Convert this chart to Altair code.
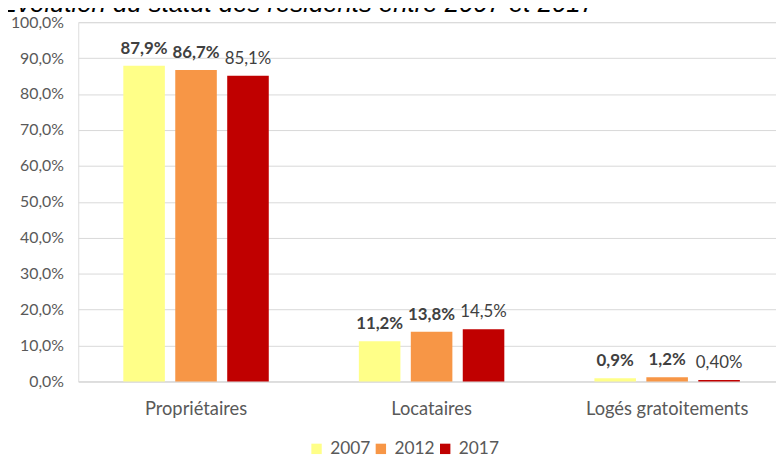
import altair as alt
import pandas as pd

categories = ["Propriétaires", "Locataires", "Logés gratoitements"]
years = ["2007", "2012", "2017"]
v2007 = [87.9, 11.2, 0.9]
v2012 = [86.7, 13.8, 1.2]
v2017 = [85.1, 14.5, 0.4]
lab2007 = ["87,9%", "11,2%", "0,9%"]
lab2012 = ["86,7%", "13,8%", "1,2%"]
lab2017 = ["85,1%", "14,5%", "0,40%"]
colors = ["#FFFF88", "#F79646", "#C00000"]
title_text = "Évolution du statut des résidents entre 2007 et 2017"

rows = []
for yr, vals, labs in zip(years, [v2007, v2012, v2017], [lab2007, lab2012, lab2017]):
    for c, v, l in zip(categories, vals, labs):
        rows.append({"cat": c, "year": yr, "value": v, "label": l})
df = pd.DataFrame(rows)

FONT = "Lato"

x = alt.X("cat:N", sort=categories, title=None,
          scale=alt.Scale(paddingInner=0, paddingOuter=0),
          axis=alt.Axis(labelAngle=0, labelFont=FONT, labelFontSize=18.5,
                        labelColor="#595959", labelPadding=18, ticks=False,
                        domainColor="#d9d9d9", domainWidth=1, grid=False))
xo = alt.XOffset("year:N", sort=years,
                 scale=alt.Scale(paddingInner=0.2, paddingOuter=0.867))
y = alt.Y("value:Q", title=None,
          scale=alt.Scale(domain=[0, 100], nice=False),
          axis=alt.Axis(values=list(range(0, 101, 10)),
                        labelExpr="replace(format(datum.value, '.1f'), '.', ',') + '%'",
                        labelFont=FONT, labelFontSize=16, labelColor="#595959",
                        labelPadding=15, ticks=False, domain=False,
                        gridColor="#d9d9d9", gridWidth=1))

base = alt.Chart(df)

bars = base.mark_bar().encode(
    x=x, xOffset=xo, y=y,
    color=alt.Color("year:N", sort=years,
                    scale=alt.Scale(domain=years, range=colors),
                    legend=alt.Legend(title=None, orient="none", direction="horizontal",
                                      legendX=232, legendY=422,
                                      symbolType="square", symbolSize=110,
                                      symbolStrokeWidth=0,
                                      labelFont=FONT, labelFontSize=17.5,
                                      labelColor="#595959", labelOffset=5,
                                      columnPadding=1)),
)

bold_labels = base.transform_filter("datum.year != '2017'").mark_text(
    font=FONT, fontSize=17, fontWeight="bold", color="#404040",
    baseline="alphabetic", dy=-12,
).encode(x=x, xOffset=xo, y=y, text="label:N")

normal_labels = base.transform_filter("datum.year == '2017'").mark_text(
    font=FONT, fontSize=17, color="#404040",
    baseline="alphabetic", dy=-12,
).encode(x=x, xOffset=xo, y=y, text="label:N")

title = alt.Chart(pd.DataFrame({"t": [title_text]})).mark_text(
    font="Liberation Sans", fontSize=26, fontStyle="italic", color="#000000",
    align="left", baseline="alphabetic",
).encode(x=alt.value(-79), y=alt.value(-10.5), text="t:N")

chart = alt.layer(bars, bold_labels, normal_labels, title).properties(
    width=714, height=363,
    autosize=alt.AutoSizeParams(type="none"),
    padding={"left": 71, "top": 12, "right": -9, "bottom": 74},
).configure_view(stroke=None).configure(background="white")

chart.save("out.html", embed_options={"renderer": "svg", "actions": False})
